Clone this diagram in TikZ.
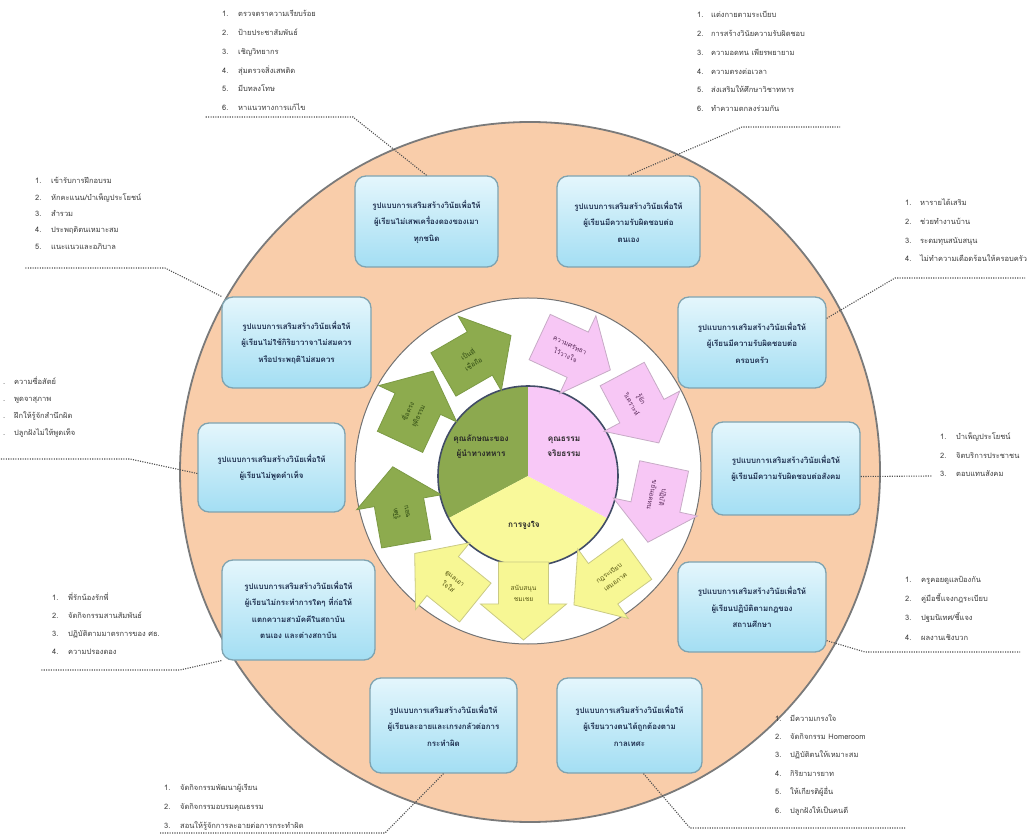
\documentclass[tikz,border=0pt]{standalone}
\usepackage{fontspec}
\setmainfont{Loma}[Script=Thai]
\usetikzlibrary{shadings}
\definecolor{peach}{HTML}{F9CDAA}
\definecolor{ringline}{HTML}{7A7A7A}
\definecolor{pgreen}{HTML}{8CA94F}
\definecolor{ppink}{HTML}{F8C8F7}
\definecolor{pyellow}{HTML}{F9F99A}
\definecolor{pieline}{HTML}{414C66}
\definecolor{boxtop}{HTML}{E4F6FC}
\definecolor{boxbot}{HTML}{A3DEF3}
\definecolor{boxline}{HTML}{7FA3B0}
\definecolor{boxtxt}{HTML}{1E2F4F}
\definecolor{listcol}{HTML}{3C3C3C}
\definecolor{dotcol}{HTML}{505050}
\definecolor{garrfill}{HTML}{8DAB4E}
\definecolor{garrline}{HTML}{7C9A45}
\definecolor{parrfill}{HTML}{F7C7F5}
\definecolor{parrline}{HTML}{C7ABC6}
\definecolor{yarrfill}{HTML}{F7F794}
\definecolor{yarrline}{HTML}{CACA84}
\definecolor{gtxt}{HTML}{2F4A12}
\definecolor{ptxt}{HTML}{5A2A5A}
\definecolor{ytxt}{HTML}{5A5A14}

\tikzset{
  modelbox/.style={draw=boxline, line width=1.3pt, rounded corners=11pt,
    top color=boxtop, bottom color=boxbot, text=boxtxt,
    font=\fontsize{7.9}{16.5}\selectfont\bfseries, align=center, inner sep=0pt},
  listline/.style={text=listcol, font=\fontsize{7.5}{9}\selectfont, anchor=base west, inner sep=0pt},
  dotline/.style={draw=dotcol, line width=1.1pt, dash pattern=on 1.1pt off 1.3pt},
  garr/.style={fill=garrfill, draw=garrline, line width=0.8pt},
  parr/.style={fill=parrfill, draw=parrline, line width=0.8pt},
  yarr/.style={fill=yarrfill, draw=yarrline, line width=0.8pt},
  gtext/.style={text=gtxt, font=\fontsize{6.6}{11}\selectfont, align=center, inner sep=0pt},
  ptext/.style={text=ptxt, font=\fontsize{6.6}{11}\selectfont, align=center, inner sep=0pt},
  ytext/.style={text=ytxt, font=\fontsize{6.6}{11}\selectfont, align=center, inner sep=0pt},
  pietxt/.style={text=black!85, font=\fontsize{8.2}{15}\selectfont\bfseries, align=center, inner sep=0pt}
}

% #1 name, #2 x, #3 y, #4 shape angle, #5 colour key (g/p/y), #6 text, #7 text angle
\newcommand\cyarrow[7]{%
  \begin{scope}[shift={(#2,#3)},rotate=#4]
    \draw[#5arr] (-39,-25) -- (3,-25) -- (3,-43) -- (39,0) -- (3,43) -- (3,25) -- (-39,25) -- cycle;
    \node[#5text, rotate=#7] (#1) at (-8,0) {#6};
  \end{scope}}

% #1 prefix, #2 x, #3 number width, #4 first baseline, #5 spacing, #6 items
\newcommand\thlist[6]{%
  \foreach \itm [count=\i] in {#6} {
    \node[listline] (#1\i) at ({#2},{#4-(\i-1)*#5}) {\makebox[#3pt][l]{\i.}\itm};
  }}

\begin{document}
\begin{tikzpicture}[x=1pt,y=1pt]
\fill[white] (0,0) rectangle (1028,836);
\useasboundingbox (0,0) rectangle (1028,836);

% big ring
\filldraw[fill=peach, draw=ringline, line width=1.8pt] (530,364) circle[radius=350pt];

% corner coordinates of connectors
\coordinate (a1) at (353,719); \coordinate (a2) at (205,719);
\coordinate (c1) at (742,709); \coordinate (c2) at (840,709);
\coordinate (e1) at (165,568); \coordinate (e2) at (25,568);
\coordinate (f1) at (130,377); \coordinate (f2) at (0,377);
\coordinate (g1) at (180,166); \coordinate (g2) at (40,166);
\coordinate (h1) at (385,3);   \coordinate (h2) at (160,3);
\coordinate (k1) at (690,8);   \coordinate (k2) at (905,8);
\coordinate (m1) at (865,184); \coordinate (m2) at (1020,184);
\coordinate (n2) at (932,360);
\coordinate (q1) at (895,558); \coordinate (q2) at (1025,558);

% boxes
\node[modelbox, minimum width=143pt, minimum height=91pt] (b1) at (426.5,614.5)
  {รูปแบบการเสริมสร้างวินัยเพื่อให้\\ผู้เรียนไม่เสพเครื่องดองของเมา\\ทุกชนิด};
\node[modelbox, minimum width=143pt, minimum height=91pt] (b2) at (628.5,614.5)
  {รูปแบบการเสริมสร้างวินัยเพื่อให้\\ผู้เรียนมีความรับผิดชอบต่อ\\ตนเอง};
\node[modelbox, minimum width=149pt, minimum height=91pt] (b3) at (296.5,493.5)
  {รูปแบบการเสริมสร้างวินัยเพื่อให้\\ผู้เรียนไม่ใช้กิริยาวาจาไม่สมควร\\หรือประพฤติไม่สมควร};
\node[modelbox, minimum width=147pt, minimum height=89pt] (b4) at (271.5,368.5)
  {รูปแบบการเสริมสร้างวินัยเพื่อให้\\ผู้เรียนไม่พูดคำเท็จ};
\node[modelbox, minimum width=153pt, minimum height=100pt] (b5) at (298.5,226)
  {รูปแบบการเสริมสร้างวินัยเพื่อให้\\ผู้เรียนไม่กระทำการใดๆ ที่ก่อให้\\แตกความสามัคคีในสถาบัน\\ตนเอง และต่างสถาบัน};
\node[modelbox, minimum width=147pt, minimum height=95pt] (b6) at (443.5,110.5)
  {รูปแบบการเสริมสร้างวินัยเพื่อให้\\ผู้เรียนละอายและเกรงกลัวต่อการ\\กระทำผิด};
\node[modelbox, minimum width=145pt, minimum height=95pt] (b7) at (629.5,110.5)
  {รูปแบบการเสริมสร้างวินัยเพื่อให้\\ผู้เรียนวางตนได้ถูกต้องตาม\\กาลเทศะ};
\node[modelbox, minimum width=148pt, minimum height=90pt] (b8) at (752,229)
  {รูปแบบการเสริมสร้างวินัยเพื่อให้\\ผู้เรียนปฏิบัติตามกฎของ\\สถานศึกษา};
\node[modelbox, minimum width=148pt, minimum height=93pt] (b9) at (786,367.5)
  {รูปแบบการเสริมสร้างวินัยเพื่อให้\\ผู้เรียนมีความรับผิดชอบต่อสังคม};
\node[modelbox, minimum width=148pt, minimum height=91pt] (b10) at (752,493.5)
  {รูปแบบการเสริมสร้างวินัยเพื่อให้\\ผู้เรียนมีความรับผิดชอบต่อ\\ครอบครัว};

% dotted connectors
\draw[dotline] (b1.north) -- (a1) -- (a2);
\draw[dotline] (b2.north) -- (c1) -- (c2);
\draw[dotline] (b3.north west) -- (e1) -- (e2);
\draw[dotline] ([yshift=-6pt]b4.west) -- (f1) -- (f2);
\draw[dotline] (b5.south west) -- (g1) -- (g2);
\draw[dotline] (b6.south) -- (h1) -- (h2);
\draw[dotline] ([xshift=14pt]b7.south) -- (k1) -- (k2);
\draw[dotline] ([yshift=12pt]b8.south east) -- (m1) -- (m2);
\draw[dotline] ([yshift=-8pt]b9.east) -- (n2);
\draw[dotline] ([yshift=-22pt]b10.north east) -- (q1) -- (q2);

% white ring
\filldraw[fill=white, draw=black!55, line width=1pt] (528,365) circle[radius=173pt];

% pie
\coordinate (pc) at (528,360);
\fill[pgreen] (pc) -- ++(90:90pt) arc[start angle=90, end angle=208, radius=90pt] -- cycle;
\fill[pyellow] (pc) -- ++(208:90pt) arc[start angle=208, end angle=332, radius=90pt] -- cycle;
\fill[ppink] (pc) -- ++(-28:90pt) arc[start angle=-28, end angle=90, radius=90pt] -- cycle;
\draw[pieline, line width=1.6pt] (pc) circle[radius=90pt];
\node[pietxt] (tg) at (481,389) {คุณลักษณะของ\\ผู้นำทางทหาร};
\node[pietxt] (tp) at (564,389) {คุณธรรม\\จริยธรรม};
\node[pietxt] (ty) at (524,311) {การจูงใจ};

% cycle arrows
\cyarrow{ag3}{477.2}{481}{30}{g}{เป็นที่\\เชื่อถือ}{30}
\cyarrow{ag2}{416.5}{429.5}{65}{g}{ซื่อตรง\\ยุติธรรม}{65}
\cyarrow{ag1}{399.5}{330.8}{100}{g}{รู้ผิด\\ชอบ}{100}
\cyarrow{ay3}{445}{258}{141}{y}{ดูแลเอา\\ใจใส่}{-39}
\cyarrow{ay2}{523.5}{235}{-90}{y}{สนับสนุน\\ชมเชย}{0}
\cyarrow{ay1}{605.5}{254}{-144}{y}{กฎระเบียบ\\เสมอภาค}{36}
\cyarrow{ap3}{656}{331.9}{-102}{p}{ปฏิบัติ\\ขยันอดทน}{-102}
\cyarrow{ap2}{640.5}{427.5}{-62}{p}{รู้จัก\\วิเคราะห์}{-62}
\cyarrow{ap1}{575}{482.5}{-25}{p}{ความศรัทธา\\ไว้วางใจ}{-25}

% lists
\thlist{la}{222}{16}{819}{18.7}{ตรวจตราความเรียบร้อย,ป้ายประชาสัมพันธ์,เชิญวิทยากร,สุ่มตรวจสิ่งเสพติด,มีบทลงโทษ,หาแนวทางการแก้ไข}
\thlist{lb}{697}{14}{818}{18.7}{แต่งกายตามระเบียบ,การสร้างวินัยความรับผิดชอบ,ความอดทน เพียรพยายาม,ความตรงต่อเวลา,ส่งเสริมให้ศึกษาวิชาทหาร,ทำความตกลงร่วมกัน}
\thlist{lc}{35}{16}{652}{16.3}{เข้ารับการฝึกอบรม,หักคะแนน/บำเพ็ญประโยชน์,สำรวม,ประพฤติตนเหมาะสม,แนะแนวและอภิบาล}
\foreach \itm [count=\i] in {ความซื่อสัตย์,พูดจาสุภาพ,ฝึกให้รู้จักสำนึกผิด,ปลูกฝังไม่ให้พูดเท็จ} {
  \node[listline] (ldn\i) at (3,{451-(\i-1)*17}) {.};
  \node[listline] (ld\i) at (14,{451-(\i-1)*17}) {\itm};
}
\thlist{le}{52}{16}{235}{17.7}{พี่รักน้องรักพี่,จัดกิจกรรมสานสัมพันธ์,ปฏิบัติตามมาตรการของ ศธ.,ความปรองดอง}
\thlist{lf}{164}{16}{46}{19.3}{จัดกิจกรรมพัฒนาผู้เรียน,จัดกิจกรรมอบรมคุณธรรม,สอนให้รู้จักการละอายต่อการกระทำผิด}
\thlist{lg}{775}{15}{115}{18.4}{มีความเกรงใจ,จัดกิจกรรม Homeroom,ปฏิบัติตนให้เหมาะสม,กิริยามารยาท,ให้เกียรติผู้อื่น,ปลูกฝังให้เป็นคนดี}
\thlist{lh}{905}{16}{253}{19}{ครูคอยดูแลป้องกัน,คู่มือชี้แจงกฎระเบียบ,ปฐมนิเทศ/ชี้แจง,ผลงานเชิงบวก}
\thlist{li}{940}{16}{396}{18.5}{บำเพ็ญประโยชน์,จิตบริการประชาชน,ตอบแทนสังคม}
\thlist{lj}{905}{15}{630}{18.6}{หารายได้เสริม,ช่วยทำงานบ้าน,ระดมทุนสนับสนุน,ไม่ทำความเดือดร้อนให้ครอบครัว}
\end{tikzpicture}
\end{document}
